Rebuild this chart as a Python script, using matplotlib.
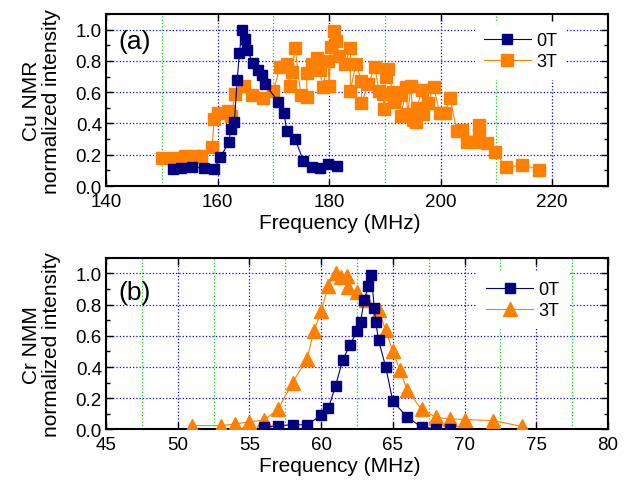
import matplotlib
matplotlib.use("Agg")
import matplotlib.pyplot as plt
from matplotlib.ticker import MultipleLocator

plt.rcParams['font.family'] = ['Liberation Sans', 'DejaVu Sans']

# (a) Cu NMR
cu_f_0T = [152.0, 153.5, 155.4, 157.5, 159.4, 160.5, 162.0, 162.4, 163.0, 163.5, 163.9,
           164.4, 164.9, 165.2, 166.4, 167.3, 167.9, 168.5, 170.9, 171.9, 172.4, 173.9,
           175.4, 176.9, 178.3, 179.8, 181.4]
cu_i_0T = [0.11, 0.117, 0.12, 0.117, 0.11, 0.185, 0.28, 0.366, 0.41, 0.675, 0.85,
           1.0, 0.94, 0.87, 0.785, 0.74, 0.71, 0.65, 0.54, 0.47, 0.35, 0.30,
           0.16, 0.125, 0.115, 0.14, 0.13]

cu_f_3T = [150.1, 152.0, 154.1, 155.7, 157.0, 159.0, 159.4, 160.0, 161.9, 162.4, 163.2,
           164.8, 166.1, 168.1, 170.0, 171.2, 172.4, 172.9, 173.3, 173.9, 174.9, 176.0,
           176.0, 176.9, 177.9, 178.3, 178.9, 179.8, 180.0, 180.3, 180.8, 181.3, 181.8,
           182.8, 183.8, 183.8, 184.8, 185.8, 185.8, 187.0, 188.2, 188.9, 189.6, 189.9,
           190.2, 190.5, 191.4, 191.7, 192.9, 192.9, 193.8, 194.1, 194.7, 195.0, 195.6,
           195.7, 196.7, 196.8, 197.7, 198.8, 199.8, 200.8, 201.7, 202.9, 203.8, 204.8,
           205.9, 206.8, 206.8, 208.4, 209.8, 211.7, 214.6, 217.6]
cu_i_3T = [0.18, 0.18, 0.195, 0.195, 0.195, 0.25, 0.43, 0.47, 0.48, 0.45, 0.59,
           0.64, 0.58, 0.56, 0.61, 0.76, 0.78, 0.64, 0.73, 0.88, 0.585, 0.57,
           0.72, 0.78, 0.82, 0.74, 0.63, 0.80, 0.64, 0.89, 0.99, 0.93, 0.83,
           0.78, 0.88, 0.61, 0.78, 0.67, 0.53, 0.65, 0.76, 0.61, 0.59, 0.49,
           0.70, 0.75, 0.60, 0.54, 0.58, 0.45, 0.63, 0.46, 0.64, 0.42, 0.41,
           0.50, 0.615, 0.46, 0.53, 0.63, 0.47, 0.47, 0.56, 0.355, 0.36, 0.28,
           0.28, 0.39, 0.33, 0.275, 0.22, 0.12, 0.135, 0.106]

# (b) Cr NMR
cr_f_0T = [56.0, 57.0, 58.0, 59.0, 60.0, 60.5, 61.0, 61.5, 62.0, 62.5, 62.75, 63.0,
           63.3, 63.5, 63.7, 63.8, 64.0, 64.5, 65.0, 66.0, 67.0, 68.0, 69.0]
cr_i_0T = [0.015, 0.025, 0.03, 0.03, 0.09, 0.135, 0.28, 0.445, 0.54, 0.63, 0.69, 0.83,
           0.92, 0.99, 0.78, 0.69, 0.575, 0.40, 0.18, 0.08, 0.015, 0.005, 0.005]

cr_f_3T = [51.0, 53.0, 54.0, 55.0, 56.0, 57.0, 58.0, 59.0, 59.5, 60.0, 60.5, 61.0,
           61.4, 61.8, 61.9, 62.5, 63.1, 64.0, 64.5, 65.0, 65.5, 66.0, 67.0, 68.0,
           69.0, 70.0, 72.0, 74.0]
cr_i_3T = [0.025, 0.025, 0.035, 0.05, 0.06, 0.13, 0.30, 0.45, 0.63, 0.76, 0.92, 1.0,
           0.98, 0.985, 0.91, 0.88, 0.83, 0.765, 0.635, 0.50, 0.38, 0.25, 0.13, 0.078,
           0.068, 0.064, 0.057, 0.02]

navy = '#000080'
orange = '#FF8000'

fig = plt.figure(figsize=(6.28, 4.81), dpi=100)
ax1 = fig.add_axes([0.169, 0.611, 0.799, 0.358])
ax2 = fig.add_axes([0.169, 0.105, 0.799, 0.357])


def style(ax, xmaj, xmin):
    ax.set_ylim(0, 1.1)
    ax.xaxis.set_major_locator(MultipleLocator(xmaj))
    ax.xaxis.set_minor_locator(MultipleLocator(xmin))
    ax.yaxis.set_major_locator(MultipleLocator(0.2))
    ax.yaxis.set_minor_locator(MultipleLocator(0.1))
    ax.tick_params(which='both', direction='in', top=True, right=True, labelsize=13.5)
    ax.tick_params(which='major', length=5, width=1)
    ax.tick_params(which='minor', length=3, width=1)
    ax.tick_params(axis='x', which='both', pad=5)
    ax.tick_params(axis='y', which='both', pad=3)
    ax.tick_params(axis='x', which='minor', top=False, bottom=False)
    ax.grid(which='major', color='#0000FF', linestyle=':', linewidth=0.9)
    ax.grid(which='minor', axis='x', color='#00E000', linestyle=':', linewidth=0.9)
    ax.grid(which='minor', axis='y', visible=False)
    for s in ax.spines.values():
        s.set_linewidth(1.5)
    ax.set_axisbelow(True)


ax1.plot(cu_f_3T, cu_i_3T, '-s', color=orange, mfc=orange, mec=orange, ms=8,
         lw=0.8, label='3T', zorder=3)
ax1.plot(cu_f_0T, cu_i_0T, '-s', color=navy, mfc=navy, mec=navy, ms=7.5,
         lw=0.8, label='0T', zorder=4)
ax1.set_xlim(140, 230)
style(ax1, 20, 10)
ax1.set_xlabel('Frequency (MHz)', fontsize=15)
ax1.xaxis.set_label_coords(0.466, -0.155)
ax1.set_ylabel('Cu NMR\nnormalized intensity', fontsize=15, linespacing=1.05)
ax1.yaxis.set_label_coords(-0.09, 0.5)
ax1.text(0.025, 0.84, '(a)', transform=ax1.transAxes, fontsize=19, va='center')
h, l = ax1.get_legend_handles_labels()
ax1.legend(h[::-1], l[::-1], loc='upper right', bbox_to_anchor=(0.935, 1.0),
           fontsize=13, frameon=True, fancybox=False, framealpha=1,
           edgecolor='none', handlelength=2.6, handletextpad=0.3,
           labelspacing=0.25, borderpad=0.5)

ax2.plot(cr_f_3T, cr_i_3T, '-^', color=orange, mfc=orange, mec=orange, ms=9.5,
         lw=0.8, label='3T', zorder=3)
ax2.plot(cr_f_0T, cr_i_0T, '-s', color=navy, mfc=navy, mec=navy, ms=7.5,
         lw=0.8, label='0T', zorder=4)
ax2.set_xlim(45, 80)
style(ax2, 5, 2.5)
ax2.set_xlabel('Frequency (MHz)', fontsize=15)
ax2.xaxis.set_label_coords(0.466, -0.155)
ax2.set_ylabel('Cr NMM\nnormalized intensity', fontsize=15, linespacing=1.05)
ax2.yaxis.set_label_coords(-0.09, 0.5)
ax2.text(0.025, 0.80, '(b)', transform=ax2.transAxes, fontsize=19, va='center')
h, l = ax2.get_legend_handles_labels()
ax2.legend(h[::-1], l[::-1], loc='upper right', bbox_to_anchor=(0.94, 0.97),
           fontsize=13, frameon=True, fancybox=False, framealpha=1,
           edgecolor='none', handlelength=2.6, handletextpad=0.3,
           labelspacing=0.25, borderpad=0.5)

fig.savefig('out.png', dpi=100)
